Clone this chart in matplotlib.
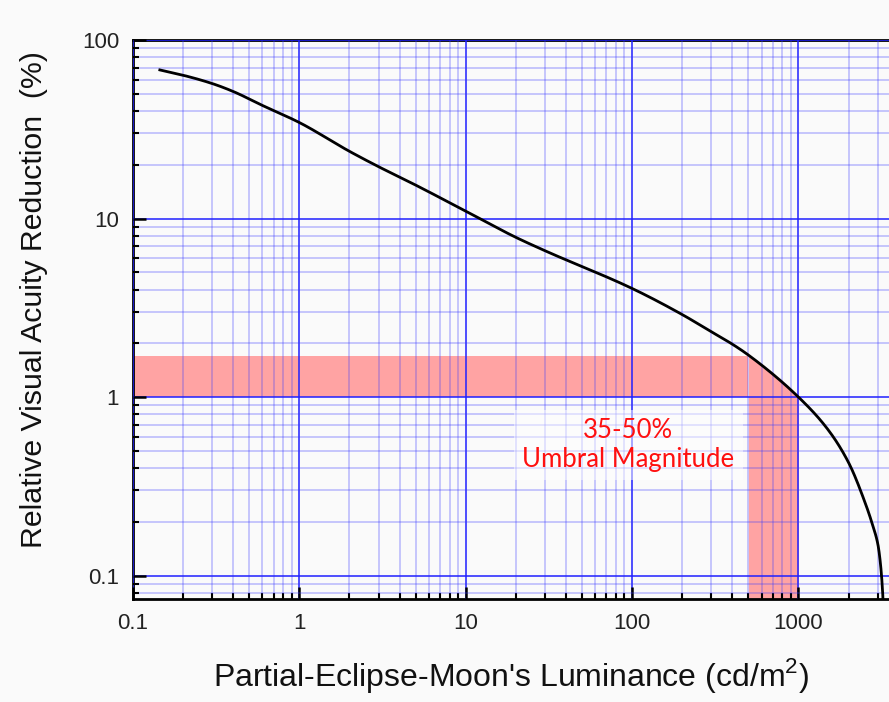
import numpy as np
import matplotlib.pyplot as plt
from matplotlib.ticker import LogLocator, FixedLocator, NullFormatter

plt.rcParams['font.family'] = ['Liberation Sans', 'DejaVu Sans']

# Krivka
luminance = [0.145, 0.2, 0.3, 0.4, 0.6, 1, 2, 3, 5, 10, 20, 30, 100, 200, 300, 400, 500,
             1000, 1500, 2000, 2500, 2800, 3000, 3100, 3200, 3250]
reduction = [68, 63.5, 57, 51.5, 43, 34.5, 23.8, 19.5, 15.4, 11.0, 7.85, 6.6, 4.06,
             2.9, 2.32, 1.98, 1.72, 1.0, 0.66, 0.43, 0.26, 0.19, 0.15, 0.12, 0.083, 0.06]

band_low, band_high = 1.0, 1.7
lum_low, lum_high = 500, 1000
x_ticks = [0.1, 1, 10, 100, 1000]
x_labels = ["0.1", "1", "10", "100", "1000"]
y_ticks = [0.1, 1, 10, 100]
y_labels = ["0.1", "1", "10", "100"]


def pchip(xv, yv, xnew):
    # monotónní kubika v log-log prostoru, jen kvůli hladké čáře
    x, y = np.log10(xv), np.log10(yv)
    h = np.diff(x)
    d = np.diff(y) / h
    m = np.zeros_like(x)
    m[0], m[-1] = d[0], d[-1]
    for k in range(1, len(x) - 1):
        if d[k - 1] * d[k] > 0:
            w1 = 2 * h[k] + h[k - 1]
            w2 = h[k] + 2 * h[k - 1]
            m[k] = (w1 + w2) / (w1 / d[k - 1] + w2 / d[k])
    xn = np.log10(xnew)
    i = np.clip(np.searchsorted(x, xn) - 1, 0, len(x) - 2)
    t = (xn - x[i]) / h[i]
    h00 = 2 * t ** 3 - 3 * t ** 2 + 1
    h10 = t ** 3 - 2 * t ** 2 + t
    h01 = -2 * t ** 3 + 3 * t ** 2
    h11 = t ** 3 - t ** 2
    yn = h00 * y[i] + h10 * h[i] * m[i] + h01 * y[i + 1] + h11 * h[i] * m[i + 1]
    return 10 ** yn


fig = plt.figure(figsize=(8.89, 7.02), dpi=100, facecolor="#fafafa")
ax = fig.add_axes([0.1496, 0.1467, 0.8504, 0.7963])
ax.set_facecolor("#fafafa")
ax.set_xscale("log")
ax.set_yscale("log")
ax.set_xlim(0.1, 3500)
ax.set_ylim(0.074, 100)

sx = np.logspace(np.log10(luminance[0]), np.log10(luminance[-1]), 800)
sy = pchip(luminance, reduction, sx)

# růžové pásy
ax.fill_between([0.1, lum_low], band_low, band_high, color="#ffa3a3", lw=0, zorder=1)
xs = np.logspace(np.log10(lum_low), np.log10(lum_high), 60)
top = np.minimum(pchip(luminance, reduction, xs), band_high)
ax.fill_between(xs, 0.074, top, color="#ffa3a3", lw=0, zorder=1)

# mřížka
ax.set_axisbelow(False)
ax.xaxis.set_major_locator(FixedLocator(x_ticks))
ax.yaxis.set_major_locator(FixedLocator(y_ticks))
ax.xaxis.set_minor_locator(LogLocator(base=10, subs=np.arange(2, 10)))
ax.yaxis.set_minor_locator(LogLocator(base=10, subs=np.arange(2, 10)))
ax.xaxis.set_minor_formatter(NullFormatter())
ax.yaxis.set_minor_formatter(NullFormatter())
ax.set_xticklabels(x_labels)
ax.set_yticklabels(y_labels)
ax.grid(True, which="major", color="#2020ff", lw=1.3, alpha=0.85)
ax.grid(True, which="minor", color="#3a3aff", lw=1.1, alpha=0.35)

ax.plot(sx, sy, color="black", lw=2, zorder=3)

ax.text(95, 0.54, "35-50%\nUmbral Magnitude", color="#ff1010", fontsize=18.5,
        family=["Lato", "DejaVu Sans"], ha="center", va="center", linespacing=1.2,
        zorder=4, bbox=dict(facecolor="white", alpha=0.5, edgecolor="none", pad=6))

for s in ["left", "bottom", "top"]:
    ax.spines[s].set_linewidth(2)
    ax.spines[s].set_color("black")
ax.spines["right"].set_visible(False)

ax.tick_params(which="major", direction="in", length=9, width=1.8, labelsize=16,
               labelcolor="#222222", pad=10)
ax.tick_params(which="minor", direction="in", length=4, width=1.5)
ax.tick_params(axis="x", which="both", top=False)

ax.set_xlabel("Partial-Eclipse-Moon's Luminance (cd/m$^\\mathregular{2}$)",
              fontsize=23, color="#111111", labelpad=16)
ax.set_ylabel("Relative Visual Acuity Reduction  (%)", fontsize=21.8, color="#111111")
ax.yaxis.set_label_coords(-0.112, 0.535)

fig.savefig("out.png", dpi=100, facecolor=fig.get_facecolor())
